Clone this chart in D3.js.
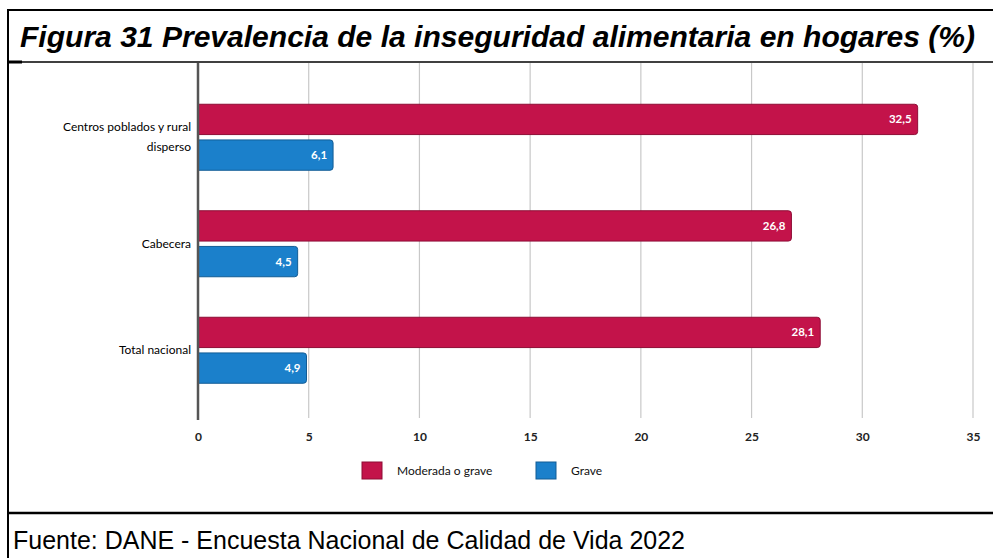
<!DOCTYPE html>
<html>
<head>
<meta charset="utf-8">
<script src="https://cdn.jsdelivr.net/npm/d3@7"></script>
<style>
  body { margin: 0; background: #fff; }
  svg { display: block; }
</style>
</head>
<body>
<div id="chart"></div>
<script>
var width = 993, height = 558;

var categories = ["Centros poblados y rural disperso", "Cabecera", "Total nacional"];
var series = ["Moderada o grave", "Grave"];
var moderada = [32.5, 26.8, 28.1];
var grave = [6.1, 4.5, 4.9];
var xTicks = [0, 5, 10, 15, 20, 25, 30, 35];
var colors = ["#c3134a", "#1b80cb"];
var strokes = ["#8e0c35", "#125c95"];

var svg = d3.select("#chart").append("svg").attr("width", width).attr("height", height);

// frame
svg.append("rect").attr("x", 8).attr("y", 10).attr("width", 995).attr("height", 560)
    .attr("fill", "none").attr("stroke", "#000").attr("stroke-width", 2);
svg.append("line").attr("x1", 8).attr("x2", width).attr("y1", 62).attr("y2", 62)
    .attr("stroke", "#000").attr("stroke-width", 1.5);
svg.append("line").attr("x1", 8).attr("x2", 22).attr("y1", 62).attr("y2", 62)
    .attr("stroke", "#000").attr("stroke-width", 3);
svg.append("line").attr("x1", 8).attr("x2", width).attr("y1", 513).attr("y2", 513)
    .attr("stroke", "#000").attr("stroke-width", 2.5);

svg.append("text").attr("x", 20).attr("y", 47)
    .attr("textLength", 955).attr("lengthAdjust", "spacingAndGlyphs")
    .style("font-family", "'Liberation Sans', Arial, sans-serif")
    .style("font-weight", "bold").style("font-style", "italic").style("font-size", "29px")
    .text("Figura 31 Prevalencia de la inseguridad alimentaria en hogares (%)");

svg.append("text").attr("x", 13).attr("y", 549)
    .attr("textLength", 672).attr("lengthAdjust", "spacingAndGlyphs")
    .style("font-family", "'Liberation Sans', Arial, sans-serif")
    .style("font-size", "26px")
    .text("Fuente: DANE - Encuesta Nacional de Calidad de Vida 2022");

var x = d3.scaleLinear().domain([0, 35]).range([198, 973]);
var y = d3.scaleBand().domain(categories).range([84, 403.5]);
var sub = d3.scaleBand().domain(series).range([0, 66]).paddingInner(0.15);

var font = "Lato, 'Open Sans', sans-serif";

// grid
svg.append("g").selectAll("line").data(xTicks.slice(1)).enter().append("line")
    .attr("x1", function (d) { return x(d); }).attr("x2", function (d) { return x(d); })
    .attr("y1", 63).attr("y2", 418)
    .attr("stroke", "#c8c8c8").attr("stroke-width", 1.2);

var axis = svg.append("g").attr("transform", "translate(0,420)")
    .call(d3.axisBottom(x).tickValues(xTicks).tickSize(0).tickPadding(12));
axis.select(".domain").remove();
axis.selectAll("text").style("font-family", font).style("font-size", "12px")
    .style("font-weight", "bold").attr("fill", "#222");

var groupTop = function (c) { return y(c) + (y.bandwidth() - 66) / 2; };
var data = [];
categories.forEach(function (c, i) {
    data.push({ cat: c, s: 0, v: moderada[i] });
    data.push({ cat: c, s: 1, v: grave[i] });
});

function barPath(x0, y0, x1, h, r) {
    return "M" + x0 + "," + y0 + "H" + (x1 - r) + "Q" + x1 + "," + y0 + " " + x1 + "," + (y0 + r) +
        "V" + (y0 + h - r) + "Q" + x1 + "," + (y0 + h) + " " + (x1 - r) + "," + (y0 + h) + "H" + x0 + "Z";
}

svg.append("g").selectAll("path").data(data).enter().append("path")
    .attr("d", function (d) {
        return barPath(x(0), groupTop(d.cat) + sub(series[d.s]), x(d.v), sub.bandwidth(), 3);
    })
    .attr("fill", function (d) { return colors[d.s]; })
    .attr("stroke", function (d) { return strokes[d.s]; }).attr("stroke-width", 1);

svg.append("g").selectAll("text").data(data).enter().append("text")
    .attr("x", function (d) { return x(d.v) - 6; })
    .attr("y", function (d) { return groupTop(d.cat) + sub(series[d.s]) + sub.bandwidth() / 2 + 4; })
    .attr("text-anchor", "end").attr("fill", "#fff")
    .style("font-family", font).style("font-size", "11.5px").style("font-weight", "bold")
    .text(function (d) { return String(d.v).replace(".", ","); });

// zero axis
svg.append("line").attr("x1", x(0)).attr("x2", x(0)).attr("y1", 63).attr("y2", 420)
    .attr("stroke", "#555").attr("stroke-width", 2.5);

// category labels
var labelLines = [["Centros poblados y rural", "disperso"], ["Cabecera"], ["Total nacional"]];
categories.forEach(function (c, i) {
    var cy = groupTop(c) + 33;
    var lines = labelLines[i];
    var t = svg.append("text").attr("text-anchor", "end")
        .style("font-family", font).style("font-size", "12px").attr("fill", "#000");
    lines.forEach(function (l, j) {
        t.append("tspan").attr("x", 191)
            .attr("y", cy + 4 + (j - (lines.length - 1) / 2) * 20)
            .text(l);
    });
});

// legend
var legendX = [362, 536];
var lg = svg.append("g").selectAll("g").data(series).enter().append("g")
    .attr("transform", function (d, i) { return "translate(" + legendX[i] + ",462)"; });
lg.append("rect").attr("width", 20).attr("height", 17)
    .attr("fill", function (d, i) { return colors[i]; })
    .attr("stroke", function (d, i) { return strokes[i]; });
lg.append("text").attr("x", 35).attr("y", 13)
    .style("font-family", font).style("font-size", "12px").attr("fill", "#111")
    .text(function (d) { return d; });
</script>
</body>
</html>
